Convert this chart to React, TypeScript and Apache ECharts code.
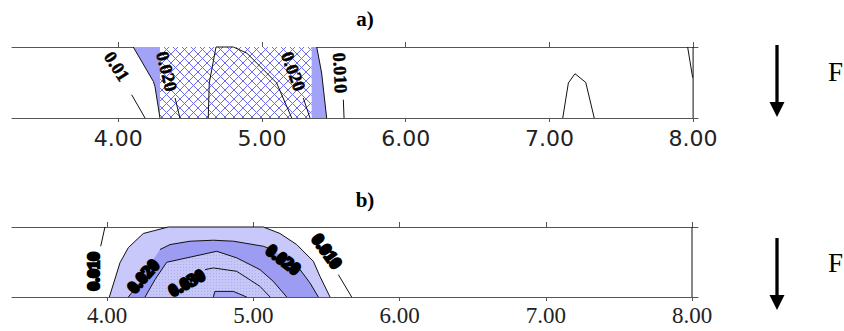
import React, { useEffect, useRef } from "react";
import * as echarts from "echarts";

// ---------- data (x: position, y: relative depth 0 = bottom, 1 = top) ----------
const ticksX = [4, 5, 6, 7, 8];

// panel a) fills
const aBandLeft = [[4.104, 1], [4.29, 1], [4.29, 0], [4.255, 0.445], [4.244, 0.515]];
const aBandRight = [[5.346, 1], [5.381, 1], [5.415, 0.634], [5.45, 0], [5.346, 0]];
const aHatch = [[4.29, 1], [5.346, 1], [5.346, 0], [4.29, 0]];
// panel a) contour lines
const aEdgeLeft = [[4.104, 1], [4.244, 0.515], [4.255, 0.445], [4.29, 0]];
const aEdgeRight = [[5.381, 1], [5.415, 0.634], [5.45, 0]];
const aInner = [[4.626, 0], [4.633, 0.493], [4.68, 1], [4.8, 1], [4.894, 0.915], [5.102, 0.493], [5.207, 0]];
const aC010L = [[4.093, 0.328], [4.186, 0]];
const aC020L = [[4.395, 0.282], [4.429, 0]];
const aC020R = [[5.287, 0.282], [5.334, 0]];
const aC010R = [[5.566, 0.258], [5.571, 0]];
const aPeak = [[7.093, 0], [7.132, 0.493], [7.178, 0.624], [7.253, 0.501], [7.312, 0]];
const aEdgeEnd = [[7.962, 1], [7.997, 0.568]];
const aBorder = [[8, 0], [8, 1]];
const aLabels = [[3.989, 0.727], [4.337, 0.656], [5.218, 0.656], [5.543, 0.634]];
const aLabelText = ["0.01", "0.020", "0.020", "0.010"];

// panel b) fills
const bOuter = [[4.016, 0], [4.089, 0.491], [4.146, 0.706], [4.248, 0.907], [4.419, 1], [5.069, 1], [5.183, 0.907], [5.297, 0.749], [5.411, 0.51], [5.456, 0.295], [5.525, 0]];
const bMid = [[4.146, 0], [4.203, 0.152], [4.271, 0.391], [4.362, 0.678], [4.431, 0.749], [4.568, 0.797], [4.727, 0.811], [4.864, 0.797], [5.069, 0.725], [5.205, 0.582], [5.32, 0.391], [5.388, 0.201], [5.445, 0]];
const bInner = [[4.26, 0], [4.328, 0.248], [4.408, 0.496], [4.75, 0.653], [4.887, 0.559], [5.046, 0.391], [5.137, 0.223], [5.229, 0]];
const bCore = [[4.727, 0], [4.738, 0.08], [4.864, 0.08], [4.955, 0]];
// panel b) contour lines
const bMidLineL = [[4.146, 0], [4.203, 0.152]];
const bMidLineTop = [[4.362, 0.678], [4.431, 0.749], [4.568, 0.797], [4.727, 0.811], [4.864, 0.797], [5.069, 0.725], [5.15, 0.66]];
const bMidLineR = [[5.28, 0.46], [5.32, 0.391], [5.388, 0.201], [5.445, 0]];
const bC030 = [[4.67, 0.391], [4.727, 0.415], [4.887, 0.367], [5.046, 0.152], [5.115, 0]];
const bC010L = [[3.986, 1], [3.957, 0.725]];
const bC010R = [[5.582, 0.319], [5.673, 0]];
const bBorder = [[8, 0], [8, 1]];
const bLabels = [[3.906, 0.367], [4.248, 0.295], [4.545, 0.201], [5.205, 0.534], [5.502, 0.653]];
const bLabelText = ["0.010", "0.020", "0.030", "0.020", "0.010"];

// ---------- styles ----------
const aLabelRot = [-1.0, -1.33, -1.22, -1.52];
const bLabelRot = [Math.PI / 2, 0.84, 0.5, -0.65, -0.95];

function svgUrl(s: string) {
  return "data:image/svg+xml;charset=utf-8," + encodeURIComponent(s);
}
const hatchFill: any = {
  image: svgUrl(
    "<svg xmlns='http://www.w3.org/2000/svg' width='9' height='9'><rect width='9' height='9' fill='#ffffff'/><path d='M-1 -1L10 10M10 -1L-1 10' stroke='#6a6af2' stroke-width='1'/></svg>"
  ),
  repeat: "repeat",
  imageWidth: 9,
  imageHeight: 9,
};
const dotFill: any = {
  image: svgUrl(
    "<svg xmlns='http://www.w3.org/2000/svg' width='3' height='3'><rect width='3' height='3' fill='#c6c6f8'/><rect width='1' height='1' fill='#acacee'/></svg>"
  ),
  repeat: "repeat",
  imageWidth: 3,
  imageHeight: 3,
};

function poly(xi: number, pts: number[][], fill: any, z: number) {
  return {
    type: "custom",
    xAxisIndex: xi,
    yAxisIndex: xi === 0 ? 0 : 1,
    data: pts,
    encode: { x: 0, y: 1 },
    z,
    silent: true,
    clip: false,
    renderItem: (params: any, api: any) => {
      if (params.dataIndex !== 0) return null;
      return {
        type: "polygon",
        shape: { points: pts.map((p) => api.coord(p)) },
        style: { fill, stroke: "none" },
      };
    },
  };
}

function line(xi: number, pts: number[][], width = 1) {
  return {
    type: "line",
    xAxisIndex: xi,
    yAxisIndex: xi === 0 ? 0 : 1,
    data: pts,
    symbol: "none",
    showSymbol: false,
    silent: true,
    clip: false,
    z: 10,
    lineStyle: { color: "#111", width },
  };
}

function labels(xi: number, pts: number[][], texts: string[], rots: number[], heavy: boolean) {
  return {
    type: "custom",
    xAxisIndex: xi,
    yAxisIndex: xi === 0 ? 0 : 1,
    data: pts,
    encode: { x: 0, y: 1 },
    z: 20,
    silent: true,
    clip: false,
    renderItem: (params: any, api: any) => {
      const c = api.coord([api.value(0), api.value(1)]);
      const i = params.dataIndex;
      return {
        type: "text",
        x: c[0],
        y: c[1],
        rotation: rots[i],
        style: heavy
          ? {
              text: texts[i],
              font: 'bold 17px "Liberation Serif"',
              fill: "#000",
              stroke: "#000",
              lineWidth: 2.6,
              align: "center",
              verticalAlign: "middle",
            }
          : {
              text: texts[i],
              font: 'bold 18px "Liberation Serif"',
              fill: "#000",
              stroke: "#000",
              lineWidth: 0.5,
              align: "center",
              verticalAlign: "middle",
            },
      };
    },
  };
}

function xAxes(gi: number, min: number, max: number, sans: boolean) {
  const common = {
    type: "value",
    gridIndex: gi,
    min,
    max,
    splitLine: { show: false },
    axisLine: { show: true, lineStyle: { color: "#555", width: 1 } },
  };
  return [
    {
      ...common,
      position: "bottom",
      axisTick: { show: true, inside: false, length: 4, customValues: ticksX, lineStyle: { color: "#555" } },
      axisLabel: {
        show: true,
        customValues: ticksX,
        formatter: (v: number) => v.toFixed(2),
        fontFamily: sans ? "DejaVu Sans" : "Liberation Serif",
        fontSize: sans ? 22 : 23,
        color: "#222",
        margin: sans ? 9 : 7,
      },
    },
    {
      ...common,
      position: "top",
      axisTick: { show: true, inside: false, length: 5, customValues: ticksX, lineStyle: { color: "#555" } },
      axisLabel: { show: false },
    },
  ];
}

function arrow(y0: number, y1: number) {
  return [
    { type: "line", shape: { x1: 777, y1: y0, x2: 777, y2: y1 - 13 }, style: { stroke: "#000", lineWidth: 3.3 } },
    { type: "polygon", shape: { points: [[769.5, y1 - 15], [784.5, y1 - 15], [777, y1]] }, style: { fill: "#000" } },
  ];
}

export default function App() {
  const ref = useRef<HTMLDivElement>(null);
  useEffect(() => {
    if (!ref.current) return;
    const chart = echarts.init(ref.current, null, { renderer: "svg" });
    const option: any = {
      animation: false,
      backgroundColor: "#fff",
      grid: [
        { left: 12, top: 47, width: 686, height: 71 },
        { left: 12, top: 227, width: 686, height: 70 },
      ],
      xAxis: [...xAxes(0, 3.2603, 8.0341, true), ...xAxes(1, 3.3504, 8.041, false)],
      yAxis: [
        { type: "value", gridIndex: 0, min: 0, max: 1, show: false },
        { type: "value", gridIndex: 1, min: 0, max: 1, show: false },
      ],
      series: [
        poly(0, aHatch, hatchFill, 2),
        poly(0, aBandLeft, "#a2a2f8", 3),
        poly(0, aBandRight, "#a2a2f8", 3),
        line(0, aEdgeLeft),
        line(0, aEdgeRight),
        line(0, aInner),
        line(0, aC010L),
        line(0, aC020L),
        line(0, aC020R),
        line(0, aC010R),
        line(0, aPeak),
        line(0, aEdgeEnd),
        line(0, aBorder),
        labels(0, aLabels, aLabelText, aLabelRot, false),

        poly(2, bOuter, "#c8c8fa", 2),
        poly(2, bMid, "#9c9cf2", 3),
        poly(2, bInner, dotFill, 4),
        poly(2, bCore, "#a6a6f2", 5),
        line(2, bOuter),
        line(2, bMidLineL),
        line(2, bMidLineTop),
        line(2, bMidLineR),
        line(2, bInner),
        line(2, bCore),
        line(2, bC030),
        line(2, bC010L),
        line(2, bC010R),
        line(2, bBorder),
        labels(2, bLabels, bLabelText, bLabelRot, true),
      ],
      graphic: [
        { type: "text", x: 365, y: 19, style: { text: "a)", font: 'bold 21px "Liberation Serif"', fill: "#000", align: "center", verticalAlign: "middle" } },
        { type: "text", x: 365, y: 200, style: { text: "b)", font: 'bold 21px "Liberation Serif"', fill: "#000", align: "center", verticalAlign: "middle" } },
        ...arrow(45, 117),
        ...arrow(238, 310),
        { type: "text", x: 828, y: 72, style: { text: "F", font: '27px "Liberation Serif"', fill: "#000", align: "left", verticalAlign: "middle" } },
        { type: "text", x: 828, y: 263, style: { text: "F", font: '27px "Liberation Serif"', fill: "#000", align: "left", verticalAlign: "middle" } },
      ],
    };
    chart.setOption(option);
    return () => chart.dispose();
  }, []);
  return <div ref={ref} style={{ width: 844, height: 331, position: "absolute", left: 0, top: 0 }} />;
}
